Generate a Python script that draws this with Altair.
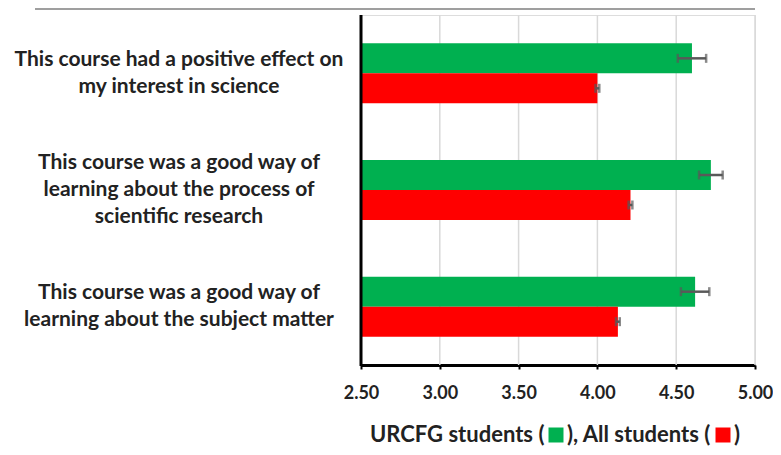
import altair as alt
import pandas as pd

questions = [
    "This course had a positive effect on\nmy interest in science",
    "This course was a good way of\nlearning about the process of\nscientific research",
    "This course was a good way of\nlearning about the subject matter",
]
series = ["URCFG students", "All students"]
urcfg_mean = [4.60, 4.72, 4.62]
urcfg_err = [0.09, 0.075, 0.09]
all_mean = [4.00, 4.21, 4.13]
all_err = [0.012, 0.012, 0.012]
colors = ["#00b050", "#ff0000"]
major_ticks = [2.5, 3.0, 3.5, 4.0, 4.5, 5.0]
minor_ticks = [2.5 + 0.0625 * i for i in range(41)]
axis_min = 2.5

rows = []
for i, q in enumerate(questions):
    rows.append(dict(q=q, s=series[0], v=urcfg_mean[i], base=axis_min,
                     lo=urcfg_mean[i] - urcfg_err[i], hi=urcfg_mean[i] + urcfg_err[i]))
    rows.append(dict(q=q, s=series[1], v=all_mean[i], base=axis_min,
                     lo=all_mean[i] - all_err[i], hi=all_mean[i] + all_err[i]))
df = pd.DataFrame(rows)

FONT = "Lato"
W = 394
xscale = alt.Scale(domain=[2.5, 5.0], nice=False, zero=False)
yscale = alt.Scale(domain=questions, paddingInner=0.486, paddingOuter=0.243)
yenc = alt.Y("q:N", scale=yscale, axis=None, sort=questions)
yoff = alt.YOffset("s:N", scale=alt.Scale(domain=series, paddingInner=0, paddingOuter=0))
cscale = alt.Scale(domain=series, range=colors)

axis_layer = alt.Chart(pd.DataFrame({"t": minor_ticks})).mark_point(opacity=0).encode(
    x=alt.X(
        "t:Q",
        scale=xscale,
        axis=alt.Axis(
            values=minor_ticks,
            labelExpr="abs(datum.value*2 - round(datum.value*2)) < 0.001 ? format(datum.value, '.2f') : ''",
            grid=False,
            domainColor="#000000",
            domainWidth=3,
            tickColor="#000000",
            tickWidth=2,
            tickSize=4,
            labelFont=FONT,
            labelFontSize=18,
            labelFontWeight="bold",
            labelColor="#222222",
            labelPadding=15,
            labelFlush=False,
            title=None,
        ),
    )
)

grid = alt.Chart(pd.DataFrame({"g": major_ticks[1:]})).mark_rule(color="#d9d9d9", strokeWidth=1.5).encode(
    x=alt.X("g:Q", scale=xscale)
)

bars = alt.Chart(df).mark_bar(size=30).encode(
    x=alt.X("v:Q", scale=xscale),
    x2="base:Q",
    y=yenc,
    yOffset=yoff,
    color=alt.Color("s:N", scale=cscale, legend=None),
)

err = alt.Chart(df).mark_rule(color="#595959", strokeWidth=2.5).encode(
    x=alt.X("lo:Q", scale=xscale), x2="hi:Q", y=yenc, yOffset=yoff
)
cap_lo = alt.Chart(df).mark_tick(color="#595959", thickness=2.5, size=9, orient="vertical").encode(
    x=alt.X("lo:Q", scale=xscale), y=yenc, yOffset=yoff
)
cap_hi = alt.Chart(df).mark_tick(color="#595959", thickness=2.5, size=9, orient="vertical").encode(
    x=alt.X("hi:Q", scale=xscale), y=yenc, yOffset=yoff
)

left_axis = alt.Chart(pd.DataFrame({"a": [0]})).mark_rule(color="#000000", strokeWidth=3).encode(
    x=alt.value(0), y=alt.value(0), y2=alt.value(351)
)

LH = 27
lab_df = pd.DataFrame({"q": questions, "n": [q.count("\n") + 1 for q in questions]})


def label_layer(n):
    return alt.Chart(lab_df).transform_filter(alt.datum.n == n).mark_text(
        font=FONT, fontSize=21, fontWeight="bold", color="#222222", align="center",
        baseline="middle", lineBreak="\n", lineHeight=LH, dy=-(n - 1) * LH / 2,
    ).encode(y=yenc, x=alt.value(-182), text="q:N")


top_line = alt.Chart(pd.DataFrame({"a": [0]})).mark_rule(color="#7f7f7f", strokeWidth=1.5).encode(
    x=alt.value(-326), x2=alt.value(W), y=alt.value(-6)
)

LEG_Y = 420


def leg_text(t, px):
    return alt.Chart(pd.DataFrame({"t": [t]})).mark_text(
        font=FONT, fontSize=22, fontWeight="bold", color="#222222", align="left", baseline="middle"
    ).encode(text="t:N", x=alt.value(px), y=alt.value(LEG_Y))


def leg_sq(s, px):
    return alt.Chart(pd.DataFrame({"s": [s]})).mark_square(size=225, opacity=1).encode(
        x=alt.value(px), y=alt.value(LEG_Y), color=alt.Color("s:N", scale=cscale, legend=None)
    )


chart = alt.layer(
    axis_layer, grid, bars, err, cap_lo, cap_hi, left_axis,
    label_layer(2), label_layer(3), top_line,
    leg_text("URCFG students (", 9), leg_sq(series[0], 195),
    leg_text("), All students (", 206), leg_sq(series[1], 362), leg_text(")", 373),
).properties(
    width=W, height=350,
    autosize=alt.AutoSizeParams(type="none"),
    padding={"left": 353, "top": 7, "right": 18, "bottom": 82},
).configure_view(stroke=None).configure(background="#ffffff")

chart.save("out.html", embed_options={"renderer": "svg", "actions": False})
